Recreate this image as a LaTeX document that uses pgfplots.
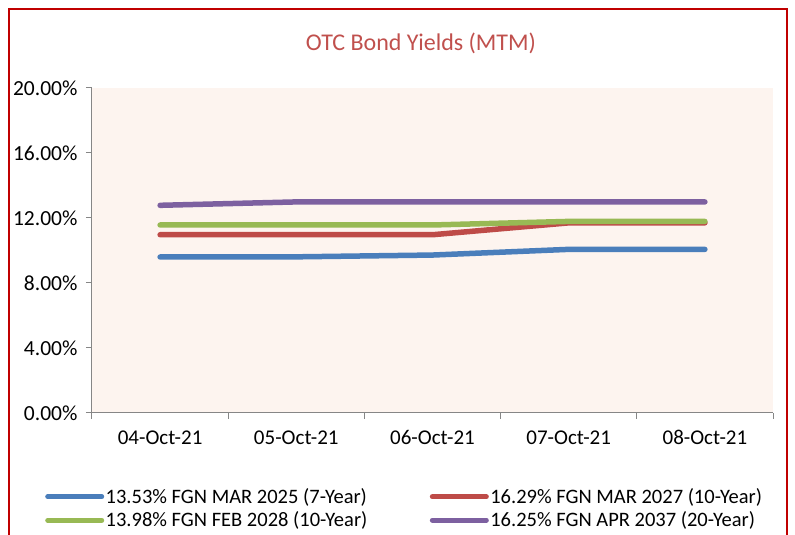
\documentclass[border=0pt]{standalone}
\usepackage{fontspec}
\setmainfont{Carlito}
\usepackage{pgfplots}
\pgfplotsset{compat=1.18}
\definecolor{framec}{RGB}{192,0,0}
\definecolor{titlec}{RGB}{192,80,77}
\definecolor{bgc}{RGB}{253,244,239}
\definecolor{axc}{RGB}{134,134,134}
\definecolor{s1}{RGB}{74,126,187}
\definecolor{s2}{RGB}{190,75,72}
\definecolor{s3}{RGB}{152,185,84}
\definecolor{s4}{RGB}{125,96,160}
\begin{document}
\begin{tikzpicture}[x=1pt,y=1pt]
\useasboundingbox (0,0) rectangle (795,535);
\draw[framec, line width=2pt] (9,-20) rectangle (787,526);
\node[font=\fontsize{24}{28}\selectfont, text=titlec] at (421,492) {OTC Bond Yields (MTM)};
\begin{axis}[
  at={(92pt,122pt)}, anchor=south west,
  scale only axis, width=681pt, height=325pt,
  xmin=-0.5, xmax=4.5, ymin=0, ymax=20,
  axis x line*=bottom, axis y line*=left,
  axis line style={axc, line width=1pt},
  axis background/.style={fill=bgc},
  xtick={0,1,2,3,4},
  xticklabels={04-Oct-21,05-Oct-21,06-Oct-21,07-Oct-21,08-Oct-21},
  minor xtick={-0.5,0.5,1.5,2.5,3.5,4.5},
  major x tick style={draw=none},
  minor x tick style={axc, line width=1pt},
  minor tick length=6pt,
  ytick={0,4,8,12,16,20},
  y tick style={axc, line width=1pt},
  major tick length=6pt,
  tick align=outside,
  yticklabel={\pgfmathprintnumber[fixed,fixed zerofill,precision=2]{\tick}\%},
  /pgf/number format/assume math mode=true,
  yticklabel style={font=\fontsize{21.5}{24}\selectfont, text=black, xshift=-5pt},
  xticklabel style={font=\fontsize{21}{24}\selectfont, text=black, yshift=-8pt},
  legend columns=2,
  legend cell align=left,
  legend style={at={(-0.069,-0.227)}, anchor=north west, draw=none, fill=none,
    font=\fontsize{20.5}{24}\selectfont, inner sep=0pt, row sep=4pt,
    nodes={inner sep=1.5pt},
    /tikz/every even column/.append style={column sep=61pt}},
  legend image code/.code={\draw[line width=5pt, line cap=round] (0pt,0pt) -- (54pt,0pt);},
  every axis plot/.append style={line width=5.5pt, line cap=round, line join=round},
]
\addplot[s1] coordinates {(0,9.60) (1,9.61) (2,9.72) (3,10.07) (4,10.07)};
\addlegendentry{13.53\% FGN MAR 2025 (7-Year)}
\addplot[s2] coordinates {(0,10.97) (1,10.97) (2,10.97) (3,11.70) (4,11.70)};
\addlegendentry{16.29\% FGN MAR 2027 (10-Year)}
\addplot[s3] coordinates {(0,11.57) (1,11.57) (2,11.57) (3,11.79) (4,11.79)};
\addlegendentry{13.98\% FGN FEB 2028 (10-Year)}
\addplot[s4] coordinates {(0,12.78) (1,12.99) (2,12.99) (3,12.99) (4,12.99)};
\addlegendentry{16.25\% FGN APR 2037 (20-Year)}
\end{axis}
\end{tikzpicture}
\end{document}
